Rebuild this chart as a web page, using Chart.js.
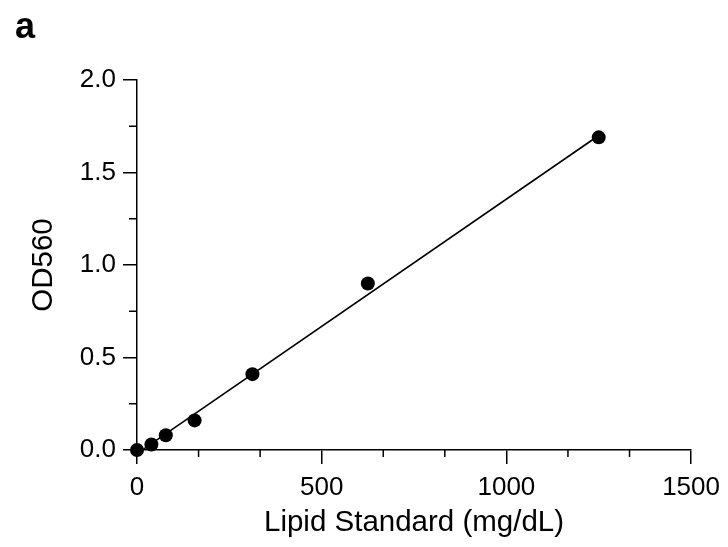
<!DOCTYPE html>
<html>
<head>
<meta charset="utf-8">
<script src="https://cdn.jsdelivr.net/npm/chart.js@4/dist/chart.umd.min.js"></script>
<style>
  html, body { margin: 0; padding: 0; background: #fff; }
  #wrap { position: relative; width: 728px; height: 547px; }
  #panel { position: absolute; left: 15px; top: 5px; font: bold 36px "Liberation Sans", Arial, sans-serif; color: #000; }
  canvas { display: block; }
</style>
</head>
<body>
<div id="wrap">
  <canvas id="c" width="728" height="547"></canvas>
  <div id="panel">a</div>
</div>
<script>
// Data
const concentrations = [0, 39, 78, 156, 312.5, 625, 1250];      // mg/dL
const od560 = [0.00, 0.03, 0.08, 0.16, 0.41, 0.90, 1.69];
const fitX = [0, 1250];
const fitY = [-0.02, 1.70];
const xTickValues = [0, 500, 1000, 1500];
const yTickValues = [0.0, 0.5, 1.0, 1.5, 2.0];
const xTitle = 'Lipid Standard (mg/dL)';
const yTitle = 'OD560';

const FONT = '"Liberation Sans", Arial, sans-serif';

const minorTicks = {
  id: 'minorTicks',
  afterDraw(chart) {
    const ctx = chart.ctx;
    const xs = chart.scales.x, ys = chart.scales.y;
    ctx.save();
    ctx.strokeStyle = '#000';
    ctx.lineWidth = 1.5;
    ctx.beginPath();
    for (let i = 0; i < xTickValues.length - 1; i++) {
      const a = xTickValues[i], b = xTickValues[i + 1];
      for (let k = 1; k < 3; k++) {
        const px = xs.getPixelForValue(a + (b - a) * k / 3);
        ctx.moveTo(px, xs.top);
        ctx.lineTo(px, xs.top + 7);
      }
    }
    for (let i = 0; i < yTickValues.length - 1; i++) {
      const a = yTickValues[i], b = yTickValues[i + 1];
      const py = ys.getPixelForValue((a + b) / 2);
      ctx.moveTo(ys.right, py);
      ctx.lineTo(ys.right - 8, py);
    }
    ctx.stroke();
    ctx.restore();
  }
};

new Chart(document.getElementById('c'), {
  type: 'scatter',
  data: {
    datasets: [
      {
        data: fitX.map((x, i) => ({ x, y: fitY[i] })),
        showLine: true,
        borderColor: '#000',
        borderWidth: 1.6,
        pointRadius: 0,
        fill: false,
        order: 2
      },
      {
        data: concentrations.map((x, i) => ({ x, y: od560[i] })),
        backgroundColor: '#000',
        borderColor: '#000',
        pointRadius: 7,
        pointBorderWidth: 0,
        order: 1
      }
    ]
  },
  plugins: [minorTicks],
  options: {
    responsive: false,
    animation: false,
    clip: false,
    layout: { padding: { top: 80, right: 36, left: 0, bottom: 0 } },
    plugins: { legend: { display: false }, tooltip: { enabled: false } },
    scales: {
      x: {
        type: 'linear',
        min: 0, max: 1500,
        afterFit(s) { s.height = 97; },
        afterBuildTicks(s) { s.ticks = xTickValues.map(v => ({ value: v })); },
        ticks: { color: '#000', padding: 8, font: { family: FONT, size: 26 }, callback: v => String(v) },
        grid: { display: true, drawOnChartArea: false, tickLength: 14, color: '#000', lineWidth: 1.5 },
        border: { display: true, color: '#000', width: 1.5 },
        title: { display: true, text: xTitle, color: '#000', font: { family: FONT, size: 29.5 }, padding: { top: 0, bottom: 6 } }
      },
      y: {
        type: 'linear',
        min: 0, max: 2,
        afterFit(s) { s.width = 137; },
        afterBuildTicks(s) { s.ticks = yTickValues.map(v => ({ value: v })); },
        ticks: { color: '#000', padding: 7, font: { family: FONT, size: 26 }, callback: v => Number(v).toFixed(1) },
        grid: { display: true, drawOnChartArea: false, tickLength: 14, color: '#000', lineWidth: 1.5 },
        border: { display: true, color: '#000', width: 1.5 },
        title: { display: true, text: yTitle, color: '#000', font: { family: FONT, size: 29.5 }, padding: { top: 26, bottom: 0 } }
      }
    }
  }
});
</script>
</body>
</html>
